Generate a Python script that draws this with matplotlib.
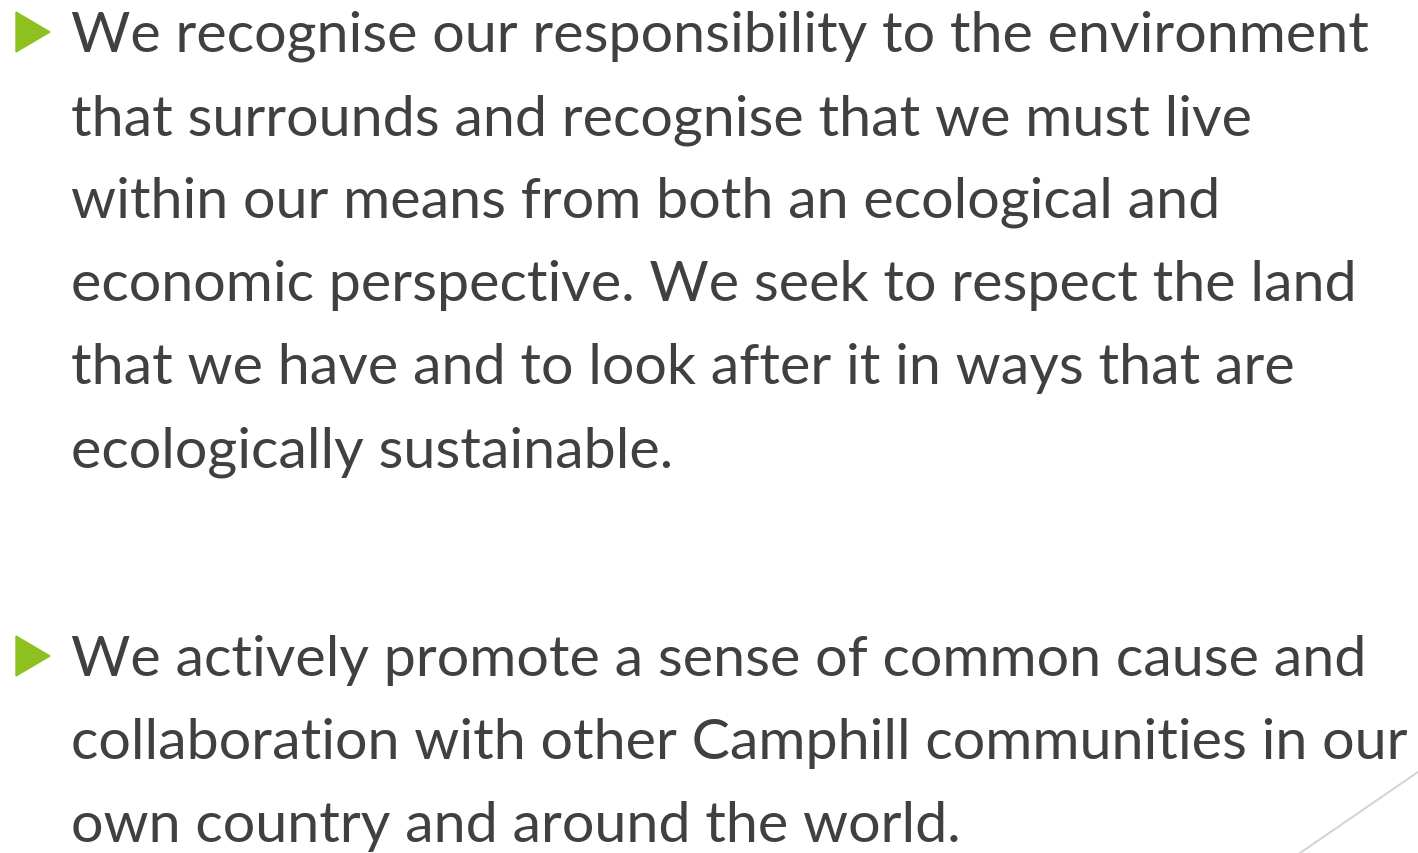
import matplotlib.pyplot as plt
from matplotlib.patches import Polygon
from matplotlib.lines import Line2D

# Texte de la diapositive, ligne par ligne
bloc_1 = [
    "We recognise our responsibility to the environment",
    "that surrounds and recognise that we must live",
    "within our means from both an ecological and",
    "economic perspective. We seek to respect the land",
    "that we have and to look after it in ways that are",
    "ecologically sustainable.",
]
bloc_2 = [
    "We actively promote a sense of common cause and",
    "collaboration with other Camphill communities in our",
    "own country and around the world.",
]

W, H = 1418, 854
fig = plt.figure(figsize=(W / 100, H / 100), dpi=100)
fig.patch.set_facecolor('white')

police = 'Lato'
taille = 41.3
couleur_texte = '#404040'
vert = '#8dc11f'
interligne = 83


def px(x, y):
    # Pixels (origine en haut à gauche) -> coordonnées figure
    return x / W, 1 - y / H


def bloc(lignes, y_base):
    for i, ligne in enumerate(lignes):
        fig.text(*px(71, y_base + i * interligne), ligne, fontsize=taille,
                 family=police, color=couleur_texte, va='baseline', ha='left')
    # Puce triangulaire verte
    top = y_base - 39
    tri = Polygon([px(16, top), px(16, top + 40), px(50, top + 20)],
                  closed=True, transform=fig.transFigure, color=vert)
    fig.patches.append(tri)


bloc(bloc_1, 52)
bloc(bloc_2, 676)

# Trait décoratif en bas à droite
x0, y0 = px(1300, 854)
x1, y1 = px(1418, 773)
fig.lines.append(Line2D([x0, x1], [y0, y1], transform=fig.transFigure,
                        color='#d4d4d4', lw=1.5))

fig.savefig('out.png', dpi=100)
